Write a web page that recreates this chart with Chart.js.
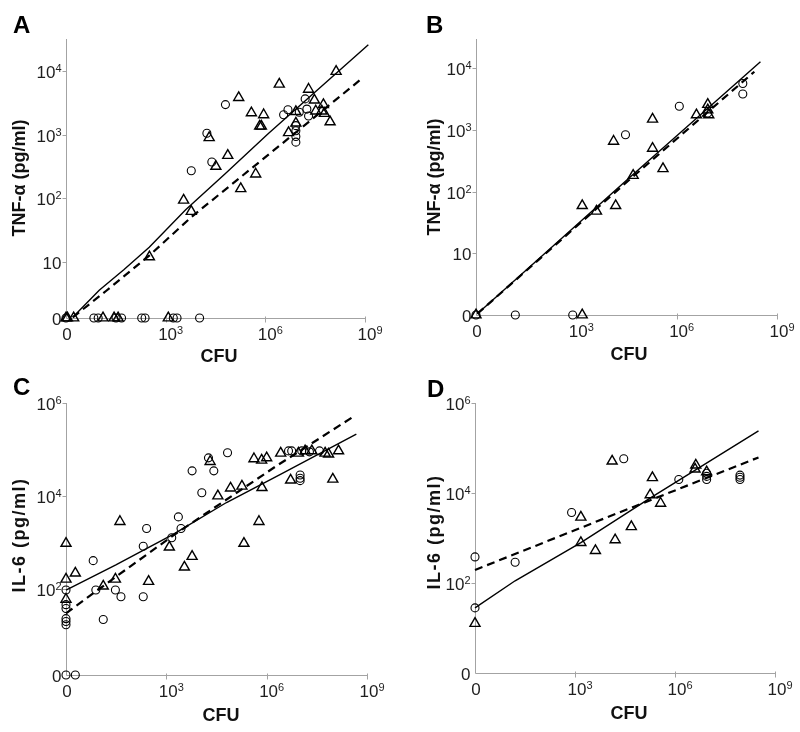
<!DOCTYPE html>
<html><head><meta charset="utf-8">
<script src="https://cdn.jsdelivr.net/npm/chart.js@4.4.1/dist/chart.umd.min.js"></script>
<style>
html,body{margin:0;padding:0;background:#fff;}
#wrap{position:relative;width:800px;height:732px;background:#fff;}
canvas{position:absolute;}
</style></head><body>
<div id="wrap">
<canvas id="cA" width="400" height="366" style="left:0px;top:0px"></canvas>
<canvas id="cB" width="400" height="366" style="left:400px;top:0px"></canvas>
<canvas id="cC" width="400" height="366" style="left:0px;top:366px"></canvas>
<canvas id="cD" width="400" height="366" style="left:400px;top:366px"></canvas>
</div>
<script>
// ---------- tick labels (exponents of ten; 0 means the "0" label) ----------
const X_TICK_EXP = [0, 3, 6, 9];
const A_Y_TICK_EXP = [0, 1, 2, 3, 4];
const B_Y_TICK_EXP = [0, 1, 2, 3, 4];
const C_Y_TICK_EXP = [0, 2, 4, 6];
const D_Y_TICK_EXP = [0, 2, 4, 6];

// ---------- Panel A : TNF-alpha (pg/ml) vs CFU ----------
const A_circleCFU = [63000, 17400, 24500, 5900, 1.58e7, 4.8e6, 3.55e6, 1.05e7, 1.78e7, 2.0e7, 8.3e6, 8.3e6, 8.3e6, 8.3e6,
  0, 6.9, 9.3, 32, 47, 190, 240, 1700, 2200, 10500];
const A_circleTNF = [2950, 1050, 370, 270, 3630, 2450, 2040, 2240, 2510, 1950, 1380, 1150, 930, 760,
  0, 0, 0, 0, 0, 0, 0, 0, 0, 0];
const A_triangleCFU = [158000, 20400, 380000, 890000, 676000, 759000, 74000, 32400, 513000, 182000, 3470, 5890, 324,
  2.63e6, 1.35e8, 2.0e7, 3.0e7, 8.3e6, 3.3e7, 5.6e7, 5.0e7, 6.0e7, 8.9e7, 5.0e6, 8.3e6,
  0, 1.1, 1.7, 13, 28, 37, 1200];
const A_triangleTNF = [3800, 890, 2190, 2040, 1350, 1350, 470, 316, 240, 141, 93, 62, 12,
  6170, 9770, 5130, 3470, 2290, 2340, 2950, 2340, 2140, 1580, 1070, 1510,
  0, 0, 0, 0, 0, 0, 0];
const A_solidCFU = [1.6, 10, 56, 320, 4000, 63000, 1.26e6, 1.26e9];
const A_solidTNF = [1.35, 3.6, 7.6, 17, 66, 245, 1050, 25700];
const A_dashedCFU = [1.6, 16, 320, 6300, 2.5e6, 8.9e8];
const A_dashedTNF = [1.35, 3.5, 12.6, 52, 650, 7900];

// ---------- Panel B : TNF-alpha (pg/ml) vs CFU ----------
const B_circleCFU = [0, 15, 780, 29500, 1.2e6, 9.5e7, 9.5e7, 8.5e6];
const B_circleTNF = [0, 0, 0, 830, 2400, 5600, 3800, 1860];
const B_triangleCFU = [0, 1500, 13000, 1500, 4000, 15000, 190000, 190000, 390000, 50000, 3.9e6, 8.5e6, 8.5e6, 9.1e6];
const B_triangleTNF = [0, 0, 650, 59, 48, 59, 1480, 500, 234, 182, 1740, 2570, 2090, 1740];
const B_solidCFU = [1.1, 40000, 3.2e8];
const B_solidTNF = [1.05, 170, 12600];
const B_dashedCFU = [1.1, 40000, 2.1e8];
const B_dashedTNF = [1.05, 158, 8700];

// ---------- Panel C : IL-6 (pg/ml) vs CFU ----------
const C_circleCFU = [67600, 18200, 26300, 5890, 11500, 2290, 2750, 257, 1450, 204, 6.5, 7.8, 30, 44, 204, 13,
  0, 0, 0, 0, 0, 0, 0, 1.9,
  4.5e6, 5.6e6, 1.12e7, 1.9e7, 3.8e7, 1e7, 1e7, 1e7];
const C_circleIL6 = [85100, 66100, 34700, 34700, 11700, 3550, 2000, 2000, 1260, 832, 407, 95, 95, 68, 68, 22,
  95, 46, 38, 23, 20, 17, 0, 0,
  93300, 93300, 93300, 89100, 93300, 28200, 24000, 21400];
const C_triangleCFU = [20400, 34700, 83200, 182000, 724000, 417000, 708000, 1e6, 2.63e6, 589000, 209000, 5890, 3470, 1230,
  41, 295, 30, 13, 1.9, 0, 0, 0,
  8.9e6, 1.41e7, 2.24e7, 5.6e7, 7.1e7, 1.41e8, 5.2e6, 9.5e7];
const C_triangleIL6 = [55000, 10000, 14800, 16200, 15100, 63100, 58900, 66100, 83200, 2820, 955, 501, 295, 794,
  2820, 145, 162, 115, 219, 955, 162, 60,
  83200, 93300, 93300, 83200, 79400, 93300, 21900, 22900];
const C_solidCFU = [0, 31, 1550, 63000, 2.5e6, 4.8e8];
const C_solidIL6 = [95, 330, 1480, 7240, 28800, 214000];
const C_dashedCFU = [0, 32, 2000, 2e6, 4e8];
const C_dashedIL6 = [30, 186, 1580, 44700, 513000];

// ---------- Panel D : IL-6 (pg/ml) vs CFU ----------
const D_circleCFU = [0, 0, 16, 790, 29000, 1.3e6, 8.9e6, 8.9e6, 8.9e6, 8.9e7, 8.9e7, 8.9e7];
const D_circleIL6 = [380, 28, 290, 3700, 57500, 20000, 27500, 23400, 20000, 25000, 22400, 20000];
const D_triangleCFU = [0, 1500, 1500, 4100, 16000, 13000, 210000, 180000, 370000, 49000, 4.2e6, 4.0e6, 8.9e6];
const D_triangleIL6 = [12.6, 2900, 790, 525, 910, 51000, 21900, 9100, 5900, 1780, 41700, 33900, 29500];
const D_solidCFU = [0, 16, 1500, 174000, 3.2e8];
const D_solidIL6 = [28, 112, 790, 7600, 240000];
const D_dashedCFU = [0, 44000, 3.2e8];
const D_dashedIL6 = [195, 4570, 61700];

// ---------- helpers ----------
const FONT = '"Liberation Sans", Arial, Helvetica, sans-serif';
function pts(cfu, val, zero) {
  return cfu.map((c, i) => ({
    x: c > 0 ? Math.max(0, Math.log10(c)) : 0,
    y: val[i] > 0 ? Math.max(zero, Math.log10(val[i])) : zero
  }));
}

const PANELS = {
  cA: {letter: 'A', lx: 13, ly: 33, area: {l: 66, r: 365, t: 39, b: 318}, zero: 0.12, ymax: 4.5,
       yTicks: A_Y_TICK_EXP, yTitle: 'TNF-\u03b1 (pg/ml)', ytx: 20, yty: 178, ySpacing: 0, cfuX: 219, cfuY: 357,
       circ: [A_circleCFU, A_circleTNF], tri: [A_triangleCFU, A_triangleTNF], solid: [A_solidCFU, A_solidTNF], dash: [A_dashedCFU, A_dashedTNF]},
  cB: {letter: 'B', lx: 26, ly: 33, area: {l: 76, r: 377, t: 39, b: 315}, zero: 0.0, ymax: 4.47,
       yTicks: B_Y_TICK_EXP, yTitle: 'TNF-\u03b1 (pg/ml)', ytx: 35, yty: 177, ySpacing: 0, cfuX: 229, cfuY: 355,
       circ: [B_circleCFU, B_circleTNF], tri: [B_triangleCFU, B_triangleTNF], solid: [B_solidCFU, B_solidTNF], dash: [B_dashedCFU, B_dashedTNF]},
  cC: {letter: 'C', lx: 13, ly: 29, area: {l: 66, r: 367, t: 37, b: 309}, zero: 0.15, ymax: 6,
       yTicks: C_Y_TICK_EXP, yTitle: 'IL-6 (pg/ml)', ytx: 20, yty: 169, ySpacing: 1.5, cfuX: 221, cfuY: 350,
       circ: [C_circleCFU, C_circleIL6], tri: [C_triangleCFU, C_triangleIL6], solid: [C_solidCFU, C_solidIL6], dash: [C_dashedCFU, C_dashedIL6]},
  cD: {letter: 'D', lx: 27, ly: 31, area: {l: 75, r: 375, t: 37, b: 307}, zero: 0.0, ymax: 6,
       yTicks: D_Y_TICK_EXP, yTitle: 'IL-6 (pg/ml)', ytx: 35, yty: 166, ySpacing: 1.5, cfuX: 229, cfuY: 348,
       circ: [D_circleCFU, D_circleIL6], tri: [D_triangleCFU, D_triangleIL6], solid: [D_solidCFU, D_solidIL6], dash: [D_dashedCFU, D_dashedIL6]}
};

function drawPow(ctx, exp, x, baseline, align) {
  const main = exp === 0 ? '0' : '10';
  const sup = exp >= 2 ? String(exp) : '';
  ctx.font = '17px ' + FONT;
  const w1 = ctx.measureText(main).width;
  ctx.font = '11px ' + FONT;
  const w2 = sup ? ctx.measureText(sup).width : 0;
  const tot = w1 + w2;
  let sx = align === 'right' ? x - tot : x - tot / 2;
  ctx.textAlign = 'left';
  ctx.textBaseline = 'alphabetic';
  ctx.font = '17px ' + FONT;
  ctx.fillText(main, sx, baseline);
  if (sup) {
    ctx.font = '11px ' + FONT;
    ctx.fillText(sup, sx + w1, baseline - 6);
  }
}

const axesPlugin = {
  id: 'panelAxes',
  beforeDatasetsDraw(chart) {
    const P = PANELS[chart.canvas.id];
    const {ctx, chartArea: a} = chart;
    const xs = chart.scales.x, ys = chart.scales.y;
    const ax = Math.round(a.left) + 0.5, ay = Math.round(a.bottom) + 0.5;
    ctx.save();
    ctx.strokeStyle = '#a3a3a3';
    ctx.lineWidth = 1;
    ctx.beginPath();
    ctx.moveTo(ax, a.top);
    ctx.lineTo(ax, ay);
    ctx.lineTo(a.right + 0.5, ay);
    ctx.stroke();
    // tick marks
    ctx.beginPath();
    X_TICK_EXP.forEach(e => {
      if (e === 0) return;
      const px = Math.round(xs.getPixelForValue(e)) + 0.5;
      ctx.moveTo(px, ay - 2); ctx.lineTo(px, ay + 4);
    });
    P.yTicks.forEach(e => {
      if (e === 0) return;
      const py = Math.round(ys.getPixelForValue(e)) + 0.5;
      ctx.moveTo(ax - 4, py); ctx.lineTo(ax, py);
    });
    ctx.stroke();
    // tick labels
    ctx.fillStyle = '#1e1e1e';
    X_TICK_EXP.forEach(e => {
      const px = xs.getPixelForValue(e);
      drawPow(ctx, e, e === 0 ? px + 1 : px + 5, ay + 21, 'center');
    });
    P.yTicks.forEach(e => {
      const v = e === 0 ? P.zero : e;
      const py = ys.getPixelForValue(v);
      drawPow(ctx, e, ax - 5, py + 7, 'right');
    });
    // axis titles
    ctx.fillStyle = '#111';
    ctx.font = 'bold 18px ' + FONT;
    ctx.textAlign = 'center';
    ctx.textBaseline = 'middle';
    ctx.fillText('CFU', P.cfuX, P.cfuY);
    ctx.save();
    ctx.translate(P.ytx, P.yty);
    ctx.rotate(-Math.PI / 2);
    if ('letterSpacing' in ctx) ctx.letterSpacing = P.ySpacing + 'px';
    ctx.fillText(P.yTitle, 0, 0);
    ctx.restore();
    // panel letter
    ctx.font = 'bold 24px ' + FONT;
    ctx.textAlign = 'left';
    ctx.textBaseline = 'alphabetic';
    ctx.fillStyle = '#000';
    ctx.fillText(P.letter, P.lx, P.ly);
    ctx.restore();
  }
};

Chart.defaults.animation = false;
Chart.defaults.font.family = FONT;

Object.keys(PANELS).forEach(id => {
  const P = PANELS[id];
  const cv = document.getElementById(id);
  new Chart(cv, {
    type: 'scatter',
    data: {
      datasets: [
        {label: 'circles', data: pts(P.circ[0], P.circ[1], P.zero), pointStyle: 'circle', pointRadius: 4,
         pointBorderWidth: 1.1, pointBorderColor: '#000', pointBackgroundColor: 'rgba(255,255,255,0)', clip: false},
        {label: 'triangles', data: pts(P.tri[0], P.tri[1], P.zero), pointStyle: 'triangle', pointRadius: 5.8,
         pointBorderWidth: 1.4, pointBorderColor: '#000', pointBackgroundColor: 'rgba(255,255,255,0)', clip: false},
        {type: 'line', label: 'solid fit', data: pts(P.solid[0], P.solid[1], P.zero), borderColor: '#000',
         borderWidth: 1.4, pointRadius: 0, fill: false, tension: 0, clip: false},
        {type: 'line', label: 'dashed fit', data: pts(P.dash[0], P.dash[1], P.zero), borderColor: '#000',
         borderWidth: 2.2, borderDash: [8, 5], pointRadius: 0, fill: false, tension: 0, clip: false}
      ]
    },
    options: {
      responsive: false,
      animation: false,
      events: [],
      layout: {padding: {left: P.area.l, right: 400 - P.area.r, top: P.area.t, bottom: 366 - P.area.b}},
      plugins: {legend: {display: false}, tooltip: {enabled: false}, title: {display: false}},
      scales: {
        x: {type: 'linear', min: 0, max: 9, display: false},
        y: {type: 'linear', min: P.zero, max: P.ymax, display: false}
      }
    },
    plugins: [axesPlugin]
  });
});
</script>
</body></html>
